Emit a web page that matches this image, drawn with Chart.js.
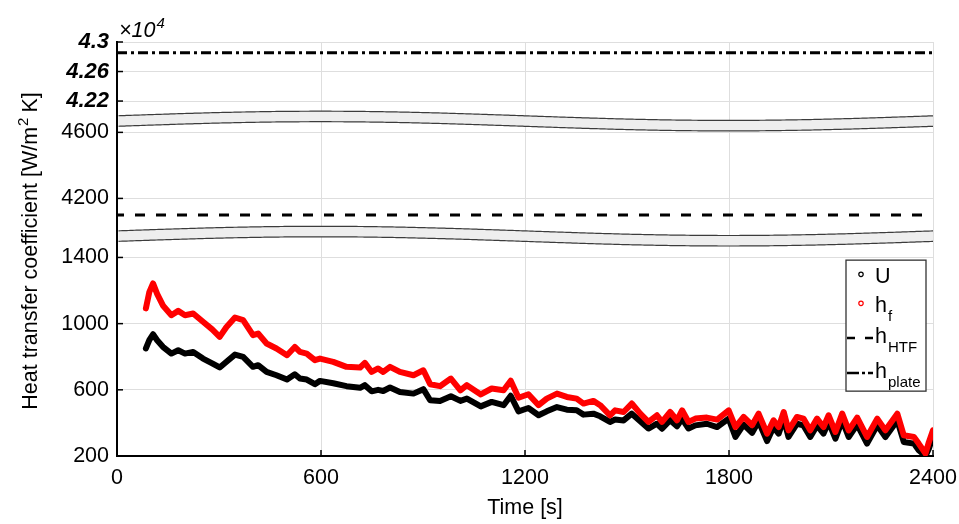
<!DOCTYPE html>
<html><head><meta charset="utf-8">
<script src="https://cdn.jsdelivr.net/npm/chart.js@4.4.0/dist/chart.umd.min.js"></script>
<style>html,body{margin:0;padding:0;background:#fff;}#wrap{width:959px;height:524px;}</style>
</head><body><div id="wrap"><canvas id="c" width="959" height="524"></canvas></div>
<script>
// ---- data ----
const timeS = [85,95,106,118,135,160,180,200,224,253,280,302,322,347,371,400,415,440,469,500,523,538,558,582,597,636,675,715,729,749,768,783,803,832,872,901,921,950,982,1010,1029,1070,1102,1137,1158,1181,1210,1240,1264,1294,1323,1352,1372,1401,1421,1450,1465,1490,1514,1539,1563,1588,1603,1627,1647,1662,1681,1701,1735,1765,1799,1819,1843,1868,1887,1912,1931,1946,1961,1975,2000,2019,2039,2059,2078,2093,2113,2133,2152,2177,2206,2236,2260,2295,2314,2344,2358,2378,2388,2400];
const hfValues = [1092,1190,1243,1180,1110,1051,1077,1051,1061,1011,965,920,980,1037,1021,930,940,880,850,809,859,829,819,779,789,769,739,735,763,708,729,708,739,708,688,718,634,622,668,597,628,572,608,597,655,552,573,507,547,577,557,547,517,533,507,446,476,466,517,456,406,446,406,466,416,476,406,426,432,420,476,375,436,386,456,335,416,375,466,355,436,426,355,426,375,446,345,456,355,432,315,426,355,456,325,315,275,215,285,355];
const uValues = [850,900,936,900,860,819,839,819,829,789,760,735,770,813,799,739,749,708,688,662,694,668,662,634,654,640,622,612,628,591,600,593,614,587,577,604,537,533,561,533,547,500,527,507,564,470,490,446,470,496,480,476,450,456,440,406,420,415,456,410,366,395,365,416,380,425,366,385,395,375,426,315,390,340,410,290,375,335,425,315,395,385,315,385,335,405,305,415,315,390,275,385,315,415,285,275,235,200,245,320];
const hHTFValue = 4100;
const hPlateValue = 42855;
const lineSpan = [0, 2400];
const seriesLabels = ['U', 'h_f', 'h_HTF', 'h_plate'];
const xTickValues = [0, 600, 1200, 1800, 2400];
const topTickValues = [42200, 42600, 43000];
const topTickLabels = ['4.22', '4.26', '4.3'];
const midTickValues = [4200, 4600];
const botTickValues = [200, 600, 1000, 1400];
const yTitle = ['Heat transfer coefficient [W/m', '2', ' K]'];
const xTitle = 'Time [s]';
const exponentText = ['\u00D710', '4'];

// ---- style ----
const FONT = "'Liberation Sans', Arial, sans-serif";
Chart.defaults.font.family = FONT;
Chart.defaults.color = '#000';
const GRID = '#dedede';
const TICKFONT = {size: 21.5};

function pts(xs, ys) { return xs.map((x, i) => ({x: x, y: ys[i]})); }
function setTicks(vals) { return s => { s.ticks = vals.map(v => ({value: v})); }; }
const plain = v => String(v);

const yCommon = {
  type: 'linear', position: 'left', stack: 'ystack',
  grid: {color: GRID, drawTicks: false, lineWidth: 1},
  border: {color: '#000', width: 2},
  ticks: {font: TICKFONT, padding: 8, autoSkip: false, callback: plain},
  afterFit: s => { s.width = 117; s.paddingTop = 0; s.paddingBottom = 0; }
};

const breakPlugin = {
  id: 'breaks',
  afterDatasetsDraw(chart) {
    const {ctx, chartArea: ca, scales} = chart;
    const bounds = [scales.yTop.bottom, scales.yMid.bottom];
    const amp = 4.6, half = 5.25;
    const W = ca.right - ca.left;
    bounds.forEach(b => {
      const f = x => b - amp * Math.sin(2 * Math.PI * (x - ca.left) / W);
      const L = ca.left + 1.5, R = ca.right;
      const xs = [];
      for (let x = L; x < R; x += 2) xs.push(x);
      xs.push(R);
      ctx.save();
      ctx.beginPath();
      xs.forEach((x, i) => i ? ctx.lineTo(x, f(x) - half) : ctx.moveTo(x, f(x) - half));
      for (let i = xs.length - 1; i >= 0; i--) ctx.lineTo(xs[i], f(xs[i]) + half);
      ctx.closePath();
      ctx.fillStyle = '#eeeeee';
      ctx.fill();
      ctx.strokeStyle = '#3c3c3c';
      ctx.lineWidth = 1.2;
      [-half, half].forEach(o => {
        ctx.beginPath();
        xs.forEach((x, i) => i ? ctx.lineTo(x, f(x) + o) : ctx.moveTo(x, f(x) + o));
        ctx.stroke();
      });
      ctx.restore();
    });
  }
};

const decoPlugin = {
  id: 'deco',
  afterDraw(chart) {
    const {ctx, chartArea: ca, scales} = chart;
    ctx.save();
    // inward tick marks
    ctx.strokeStyle = '#000';
    ctx.lineWidth = 1.5;
    ['yTop', 'yMid', 'yBot'].forEach(id => {
      const s = scales[id];
      s.ticks.forEach(t => {
        const y = s.getPixelForValue(t.value);
        ctx.beginPath(); ctx.moveTo(ca.left, y); ctx.lineTo(ca.left + 6, y); ctx.stroke();
      });
    });
    scales.x.ticks.forEach(t => {
      const x = scales.x.getPixelForValue(t.value);
      ctx.beginPath(); ctx.moveTo(x, ca.bottom); ctx.lineTo(x, ca.bottom - 6); ctx.stroke();
    });
    // exponent label
    ctx.fillStyle = '#000';
    ctx.textBaseline = 'alphabetic';
    ctx.textAlign = 'left';
    ctx.font = 'italic 21.5px ' + FONT;
    ctx.fillText(exponentText[0], ca.left + 2, ca.top - 5);
    const ew = ctx.measureText(exponentText[0]).width;
    ctx.font = 'italic 15px ' + FONT;
    ctx.fillText(exponentText[1], ca.left + 3 + ew, ca.top - 14);
    // y title
    ctx.save();
    ctx.translate(37, 251);
    ctx.rotate(-Math.PI / 2);
    ctx.font = '21.5px ' + FONT;
    const w0 = ctx.measureText(yTitle[0]).width;
    const w2 = ctx.measureText(yTitle[2]).width;
    ctx.font = '15px ' + FONT;
    const w1 = ctx.measureText(yTitle[1]).width;
    let x0 = -(w0 + w1 + w2) / 2;
    ctx.font = '21.5px ' + FONT;
    ctx.fillText(yTitle[0], x0, 0);
    ctx.font = '15px ' + FONT;
    ctx.fillText(yTitle[1], x0 + w0 + 1, -9);
    ctx.font = '21.5px ' + FONT;
    ctx.fillText(yTitle[2], x0 + w0 + w1, 0);
    ctx.restore();
    // legend
    const bx = ca.right - 87, by = scales.yBot.top + 24, bw = 80, bh = 131;
    ctx.fillStyle = '#fff';
    ctx.fillRect(bx, by, bw, bh);
    ctx.strokeStyle = '#333';
    ctx.lineWidth = 1.3;
    ctx.strokeRect(bx, by, bw, bh);
    const rows = [22.7, 51.7, 83.3, 118.3];
    chart.data.datasets.forEach((ds, i) => {
      const base = by + rows[i];
      const cy = base - 8.5;
      const sx = bx + 15;
      if (i < 2) {
        ctx.beginPath();
        ctx.arc(sx, cy, 2.2, 0, Math.PI * 2);
        ctx.strokeStyle = ds.borderColor;
        ctx.lineWidth = 1.2;
        ctx.stroke();
      } else {
        ctx.beginPath();
        ctx.setLineDash(i === 2 ? [8, 10] : [12, 3, 3, 3]);
        ctx.strokeStyle = '#000';
        ctx.lineWidth = 2.5;
        ctx.moveTo(bx + 1, cy + 3); ctx.lineTo(bx + 27, cy + 3);
        ctx.stroke();
        ctx.setLineDash([]);
      }
      const parts = ds.label.split('_');
      ctx.fillStyle = '#000';
      ctx.font = '21.5px ' + FONT;
      ctx.fillText(parts[0], bx + 29, base);
      if (parts[1]) {
        const mw = ctx.measureText(parts[0]).width;
        ctx.font = '15px ' + FONT;
        ctx.fillText(parts[1], bx + 30 + mw, base + 9);
      }
    });
    ctx.restore();
  }
};

new Chart(document.getElementById('c'), {
  type: 'line',
  data: {
    datasets: [
      {label: seriesLabels[0], data: pts(timeS, uValues), yAxisID: 'yBot', borderColor: '#000000', borderWidth: 6, pointRadius: 0, order: 1, borderCapStyle: 'round', borderJoinStyle: 'round', tension: 0},
      {label: seriesLabels[1], data: pts(timeS, hfValues), yAxisID: 'yBot', borderColor: '#ff0000', borderWidth: 6, pointRadius: 0, order: 0, borderCapStyle: 'round', borderJoinStyle: 'round', tension: 0},
      {label: seriesLabels[2], data: pts(lineSpan, [hHTFValue, hHTFValue]), yAxisID: 'yMid', borderColor: '#000', borderWidth: 3, borderDash: [10, 11], borderDashOffset: 3, pointRadius: 0, order: 2},
      {label: seriesLabels[3], data: pts(lineSpan, [hPlateValue, hPlateValue]), yAxisID: 'yTop', borderColor: '#000', borderWidth: 3, borderDash: [10, 4, 3, 4], pointRadius: 0, order: 3}
    ]
  },
  options: {
    responsive: false, animation: false, devicePixelRatio: 1,
    layout: {padding: {left: 0, right: 26, top: 42, bottom: 0}},
    plugins: {legend: {display: false}, tooltip: {enabled: false}},
    scales: {
      x: {
        type: 'linear', min: 0, max: 2400,
        afterBuildTicks: setTicks(xTickValues),
        grid: {color: GRID, drawTicks: false},
        border: {color: '#000', width: 2},
        ticks: {font: TICKFONT, padding: 9, maxRotation: 0, autoSkip: false, callback: plain},
        title: {display: true, text: xTitle, font: TICKFONT, padding: {top: 0, bottom: 3}},
        afterFit: s => { s.height = 68; s.paddingLeft = 0; s.paddingRight = 0; }
      },
      yBot: Object.assign({}, yCommon, {min: 200, max: 1528.8, stackWeight: 219.7, afterBuildTicks: setTicks(botTickValues)}),
      yMid: Object.assign({}, yCommon, {min: 3971.5, max: 4668.5, stackWeight: 115, afterBuildTicks: setTicks(midTickValues)}),
      yTop: Object.assign({}, yCommon, {min: 41929, max: 43000, stackWeight: 79, afterBuildTicks: setTicks(topTickValues),
        ticks: {font: {size: 22, weight: 'bold', style: 'italic'}, padding: 8, autoSkip: false,
          callback: v => topTickLabels[topTickValues.indexOf(v)]}})
    }
  },
  plugins: [breakPlugin, decoPlugin]
});
</script></body></html>
